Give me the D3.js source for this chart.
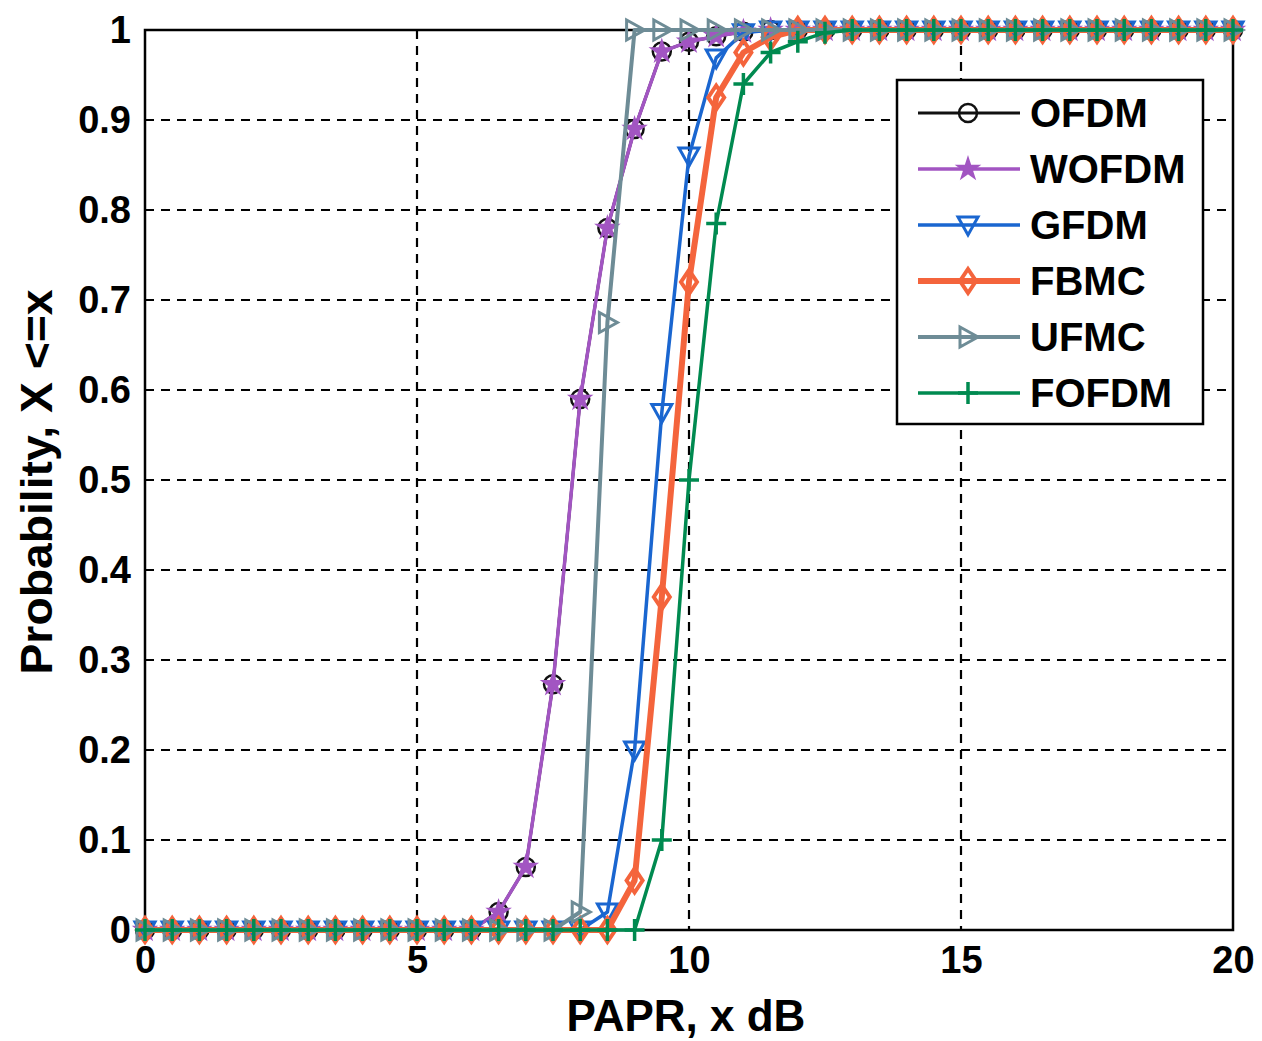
<!DOCTYPE html>
<html><head><meta charset="utf-8">
<script src="https://cdn.jsdelivr.net/npm/d3@7"></script>
<style>body{margin:0;background:#fff}svg{display:block}</style>
</head><body><svg id="c" width="1262" height="1041"></svg>
<script>
const papr = [0,0.5,1,1.5,2,2.5,3,3.5,4,4.5,5,5.5,6,6.5,7,7.5,8,8.5,9,9.5,10,10.5,11,11.5,12,12.5,13,13.5,14,14.5,15,15.5,16,16.5,17,17.5,18,18.5,19,19.5,20];
const ofdm  = [0,0,0,0,0,0,0,0,0,0,0,0,0,0.02,0.07,0.273,0.59,0.78,0.89,0.976,0.987,0.993,0.998,1,1,1,1,1,1,1,1,1,1,1,1,1,1,1,1,1,1];
const wofdm = [0,0,0,0,0,0,0,0,0,0,0,0,0,0.02,0.07,0.273,0.59,0.78,0.89,0.976,0.987,0.993,0.998,1,1,1,1,1,1,1,1,1,1,1,1,1,1,1,1,1,1];
const gfdm  = [0,0,0,0,0,0,0,0,0,0,0,0,0,0,0,0,0,0.02,0.2,0.575,0.86,0.969,0.997,1,1,1,1,1,1,1,1,1,1,1,1,1,1,1,1,1,1];
const fbmc  = [0,0,0,0,0,0,0,0,0,0,0,0,0,0,0,0,0,0,0.055,0.37,0.72,0.925,0.975,0.992,1,1,1,1,1,1,1,1,1,1,1,1,1,1,1,1,1];
const ufmc  = [0,0,0,0,0,0,0,0,0,0,0,0,0,0,0,0,0.02,0.675,1,1,1,1,1,1,1,1,1,1,1,1,1,1,1,1,1,1,1,1,1,1,1];
const fofdm = [0,0,0,0,0,0,0,0,0,0,0,0,0,0,0,0,0,0,0,0.1,0.5,0.785,0.94,0.975,0.987,0.997,1,1,1,1,1,1,1,1,1,1,1,1,1,1,1];
const seriesNames = ["OFDM","WOFDM","GFDM","FBMC","UFMC","FOFDM"];
const xTicks = [0,5,10,15,20];
const yTicks = [0,0.1,0.2,0.3,0.4,0.5,0.6,0.7,0.8,0.9,1];

const styles = {
  OFDM:  {color:"#111111", w:3,   marker:"circle"},
  WOFDM: {color:"#a255c2", w:3.5, marker:"star"},
  GFDM:  {color:"#1a66d0", w:3.5, marker:"tridown"},
  FBMC:  {color:"#f4643c", w:6,   marker:"diamond"},
  UFMC:  {color:"#6e8c96", w:4,   marker:"triright"},
  FOFDM: {color:"#008a50", w:3.5, marker:"plus"}
};
const dataMap = {OFDM:ofdm, WOFDM:wofdm, GFDM:gfdm, FBMC:fbmc, UFMC:ufmc, FOFDM:fofdm};

const svg = d3.select("#c");
const L=145, R=1233, T=30, B=930;
const x = d3.scaleLinear().domain([0,20]).range([L,R]);
const y = d3.scaleLinear().domain([0,1]).range([B,T]);
const font = "'Liberation Sans', Arial, sans-serif";

// grid
const g = svg.append("g");
g.selectAll(".gx").data(xTicks.slice(1,-1)).join("line")
  .attr("x1",d=>x(d)).attr("x2",d=>x(d)).attr("y1",T).attr("y2",B)
  .attr("stroke","#000").attr("stroke-width",2.2).attr("stroke-dasharray","9,7");
g.selectAll(".gy").data(yTicks.slice(1,-1)).join("line")
  .attr("y1",d=>y(d)).attr("y2",d=>y(d)).attr("x1",L).attr("x2",R)
  .attr("stroke","#000").attr("stroke-width",2.2).attr("stroke-dasharray","9,7");

// frame
svg.append("rect").attr("x",L).attr("y",T).attr("width",R-L).attr("height",B-T)
  .attr("fill","none").attr("stroke","#000").attr("stroke-width",2.5);

// axes via d3
const xAxis = d3.axisBottom(x).tickValues(xTicks).tickFormat(d3.format("d")).tickSize(0).tickPadding(24);
const yAxis = d3.axisLeft(y).tickValues(yTicks).tickFormat(d=>d===0?"0":d===1?"1":d3.format(".1f")(d)).tickSize(0).tickPadding(14);
const gx = svg.append("g").attr("transform",`translate(0,${B})`).call(xAxis);
const gy = svg.append("g").attr("transform",`translate(${L},0)`).call(yAxis);
[gx,gy].forEach(a=>{a.select(".domain").remove();
  a.selectAll("text").attr("font-family",font).attr("font-weight","bold").attr("font-size",38).attr("fill","#000");});
gx.selectAll("text").attr("dy","0.5em");

// titles
svg.append("text").attr("x",686).attr("y",1031).attr("text-anchor","middle")
  .attr("font-family",font).attr("font-weight","bold").attr("font-size",44).text("PAPR, x dB");
svg.append("text").attr("transform",`translate(52,482) rotate(-90)`).attr("text-anchor","middle")
  .attr("font-family",font).attr("font-weight","bold").attr("font-size",44)
  .attr("textLength",385).attr("lengthAdjust","spacingAndGlyphs").text("Probability, X <=x");

function drawMarker(sel, type, color){
  if(type==="circle"){
    sel.append("circle").attr("r",9).attr("fill","none").attr("stroke",color).attr("stroke-width",2.5);
  } else if(type==="star"){
    sel.append("path").attr("d",d3.symbol(d3.symbolStar,150)()).attr("fill",color).attr("stroke",color).attr("stroke-width",1.5);
  } else if(type==="tridown"){
    sel.append("path").attr("d","M-10,-8L10,-8L0,10Z").attr("fill","none").attr("stroke",color).attr("stroke-width",3);
  } else if(type==="diamond"){
    sel.append("path").attr("d","M0,-12L8,0L0,12L-8,0Z").attr("fill","none").attr("stroke",color).attr("stroke-width",4);
  } else if(type==="triright"){
    sel.append("path").attr("d","M-8,-10L10,0L-8,10Z").attr("fill","none").attr("stroke",color).attr("stroke-width",3);
  } else if(type==="plus"){
    sel.append("path").attr("d","M-10,0L10,0M0,-11L0,11").attr("fill","none").attr("stroke",color).attr("stroke-width",3.5);
  }
}

const line = d3.line().x(d=>x(d[0])).y(d=>y(d[1]));
seriesNames.forEach(name=>{
  const st = styles[name];
  const pts = papr.map((p,i)=>[p, dataMap[name][i]]);
  const sg = svg.append("g");
  sg.append("path").datum(pts).attr("d",line).attr("fill","none")
    .attr("stroke",st.color).attr("stroke-width",st.w).attr("stroke-linejoin","round");
  pts.forEach(p=>{
    const m = sg.append("g").attr("transform",`translate(${x(p[0])},${y(p[1])})`);
    drawMarker(m, st.marker, st.color);
  });
});

// legend
const lg = svg.append("g");
lg.append("rect").attr("x",897).attr("y",80).attr("width",306).attr("height",344)
  .attr("fill","#fff").attr("stroke","#000").attr("stroke-width",2.5);
seriesNames.forEach((name,i)=>{
  const st = styles[name];
  const yy = 113 + i*56;
  lg.append("line").attr("x1",918).attr("x2",1020).attr("y1",yy).attr("y2",yy)
    .attr("stroke",st.color).attr("stroke-width",st.w);
  const m = lg.append("g").attr("transform",`translate(968,${yy})`);
  drawMarker(m, st.marker, st.color);
  lg.append("text").attr("x",1030).attr("y",yy).attr("dy","0.36em")
    .attr("font-family",font).attr("font-weight","bold").attr("font-size",40).text(name);
});
</script></body></html>
